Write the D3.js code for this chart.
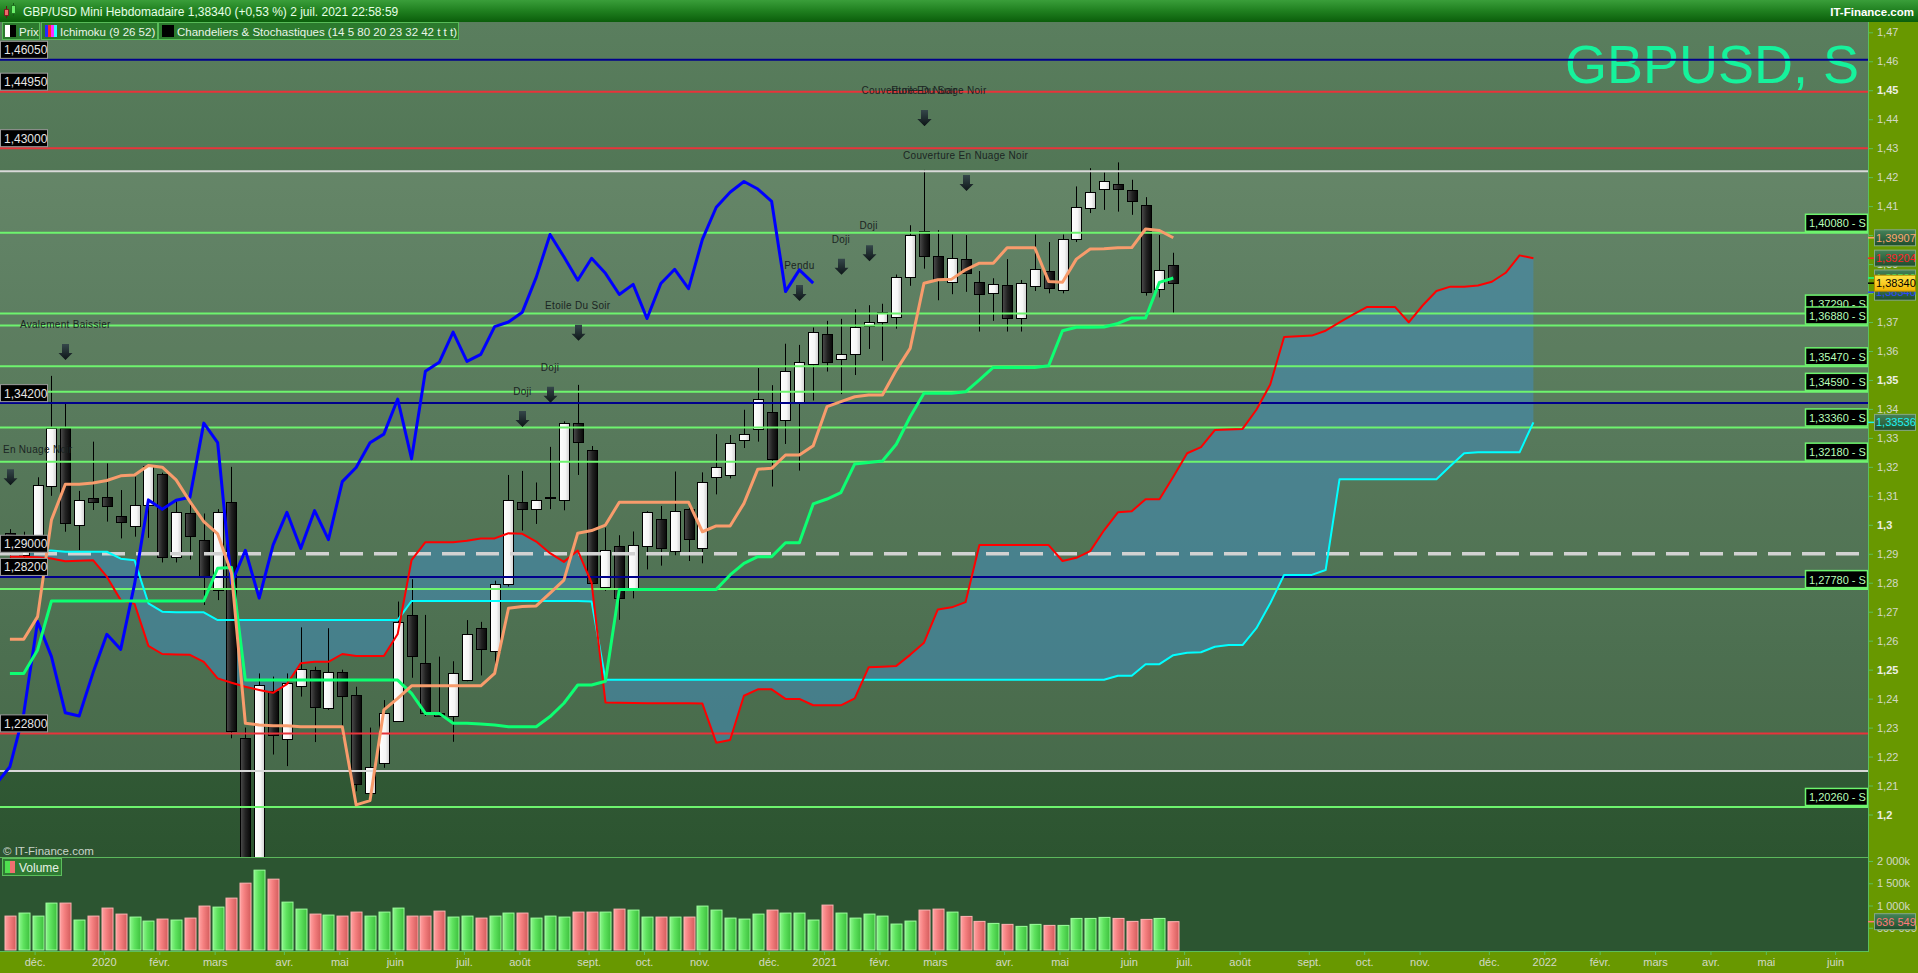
<!DOCTYPE html>
<html lang="fr">
<head>
<meta charset="utf-8">
<title>GBP/USD Mini Hebdomadaire</title>
<script src="https://cdn.jsdelivr.net/npm/d3@7/dist/d3.min.js"></script>
<style>
  body { margin: 0; background: #2c5531; overflow: hidden; }
  svg { display: block; font-family: "Liberation Sans", Arial, sans-serif; }
</style>
</head>
<body>
<div id="chart"></div>
<script>
// weekly candles, the first one is the week of 18 nov. 2019 (index 0)
const firstWeek = new Date(2019, 10, 18);

const opens = [1.2970,1.2897,1.2935,1.3133,1.3333,1.2999,1.3094,1.3097,1.3031,1.2999,
  1.3070,1.3174,1.2890,1.3039,1.2948,1.2775,1.3077,1.2263,1.1645,1.2426,
  1.2261,1.2444,1.2499,1.2370,1.2491,1.2413,1.2076,1.2176,1.2324,1.2688,
  1.2522,1.2351,1.2342,1.2464,1.2643,1.2565,1.2795,1.3078,1.3054,1.3090,
  1.3086,1.3351,1.3258,1.2786,1.2926,1.2781,1.2926,1.3019,1.2911,1.3054,
  1.2922,1.3164,1.3171,1.3294,1.3331,1.3389,1.3360,1.3418,1.3554,1.3659,
  1.3571,1.3592,1.3686,1.3701,1.3716,1.3858,1.4013,1.3927,1.3836,1.3917,
  1.3837,1.3798,1.3827,1.3712,1.3824,1.3875,1.3808,1.3987,1.4093,1.4156,
  1.4177,1.4155,1.4104,1.3813,1.3897];
const highs = [1.2985,1.2976,1.3164,1.3514,1.3417,1.3117,1.3287,1.3212,1.3120,1.3166,
  1.3205,1.3180,1.3086,1.3086,1.3039,1.3054,1.3200,1.2300,1.2487,1.2476,
  1.2487,1.2646,1.2510,1.2643,1.2500,1.2441,1.2300,1.2395,1.2735,1.2812,
  1.2689,1.2545,1.2529,1.2671,1.2665,1.2807,1.3172,1.3186,1.3146,1.3269,
  1.3357,1.3483,1.3272,1.2990,1.2964,1.2977,1.3047,1.3065,1.3184,1.3060,
  1.3181,1.3313,1.3310,1.3397,1.3541,1.3482,1.3625,1.3621,1.3681,1.3704,
  1.3711,1.3744,1.3758,1.3763,1.3864,1.4034,1.4225,1.4017,1.4002,1.4000,
  1.3876,1.3851,1.3917,1.3845,1.4002,1.3976,1.4002,1.4168,1.4231,1.4216,
  1.4251,1.4191,1.4131,1.4000,1.3939];
const lows = [1.2825,1.2822,1.2930,1.3100,1.2976,1.2913,1.3051,1.3011,1.2953,1.2959,
  1.2955,1.2870,1.2870,1.2880,1.2723,1.2740,1.2263,1.1409,1.1600,1.2207,
  1.2167,1.2407,1.2250,1.2361,1.2269,1.2080,1.2074,1.2161,1.2320,1.2472,
  1.2340,1.2338,1.2251,1.2460,1.2480,1.2517,1.2787,1.2980,1.3003,1.3054,
  1.3050,1.3172,1.2780,1.2772,1.2672,1.2746,1.2846,1.2859,1.2895,1.2875,
  1.2867,1.3105,1.3160,1.3265,1.3287,1.3132,1.3279,1.3187,1.3429,1.3529,
  1.3451,1.3517,1.3607,1.3566,1.3677,1.3825,1.3884,1.3775,1.3796,1.3804,
  1.3667,1.3704,1.3667,1.3667,1.3807,1.3799,1.3799,1.3976,1.4076,1.4087,
  1.4081,1.4070,1.3791,1.3785,1.3730];
const closes = [1.2897,1.2935,1.3136,1.3333,1.3005,1.3086,1.3080,1.3065,1.3011,1.3070,
  1.3203,1.2886,1.3045,1.2959,1.2821,1.3045,1.2286,1.1645,1.2447,1.2275,
  1.2453,1.2501,1.2370,1.2493,1.2407,1.2105,1.2165,1.2349,1.2666,1.2545,
  1.2351,1.2340,1.2489,1.2622,1.2570,1.2795,1.3086,1.3054,1.3085,1.3095,
  1.3351,1.3284,1.2798,1.2912,1.2747,1.2930,1.3043,1.2918,1.3049,1.2949,
  1.3149,1.3198,1.3283,1.3313,1.3434,1.3228,1.3530,1.3561,1.3665,1.3564,
  1.3588,1.3684,1.3700,1.3734,1.3854,1.4002,1.3925,1.3844,1.3920,1.3868,
  1.3795,1.3830,1.3712,1.3833,1.3882,1.3815,1.3985,1.4096,1.4148,1.4185,
  1.4159,1.4116,1.3805,1.3880,1.3834];
// volumes in thousands
const volumes = [762,830,762,1054,1054,673,762,942,807,740,
  650,695,673,717,987,964,1166,1502,1794,1592,
  1076,919,807,785,762,852,762,852,942,762,
  762,874,740,762,717,762,830,830,717,762,
  740,852,852,852,919,897,740,740,740,740,
  987,897,717,695,807,897,830,830,673,1009,
  830,717,807,762,583,650,897,919,852,755,
  643,598,576,531,576,553,553,710,710,733,
  710,643,688,710,636.549];

// Ichimoku (9 26 52)
const tenkan = [1.2605,1.2605,1.2683,1.3017,1.3140,1.3140,1.3144,1.3153,1.3169,1.3172,
  1.3205,1.3199,1.3155,1.3080,1.3011,1.2969,1.2833,1.2315,1.2309,1.2306,
  1.2306,1.2303,1.2303,1.2303,1.2303,1.2033,1.2048,1.2361,1.2401,1.2444,
  1.2444,1.2444,1.2444,1.2444,1.2444,1.2487,1.2712,1.2718,1.2720,1.2764,
  1.2809,1.2971,1.2980,1.2999,1.3078,1.3078,1.3078,1.3078,1.3078,1.3078,
  1.2976,1.2996,1.2996,1.3074,1.3192,1.3195,1.3241,1.3241,1.3273,1.3408,
  1.3425,1.3442,1.3448,1.3448,1.3534,1.3609,1.3834,1.3846,1.3848,1.3880,
  1.3903,1.3903,1.3956,1.3956,1.3956,1.3840,1.3837,1.3917,1.3952,1.3953,
  1.3956,1.3957,1.4021,1.4016,1.39907];
const kijun = [1.2487,1.2487,1.2568,1.2737,1.2737,1.2737,1.2737,1.2737,1.2737,1.2737,
  1.2737,1.2737,1.2737,1.2737,1.2737,1.2850,1.2853,1.2464,1.2464,1.2464,
  1.2464,1.2464,1.2464,1.2464,1.2464,1.2464,1.2464,1.2464,1.2464,1.2418,
  1.2349,1.2349,1.2315,1.2315,1.2312,1.2309,1.2303,1.2303,1.2303,1.2338,
  1.2384,1.2447,1.2447,1.2460,1.2777,1.2777,1.2777,1.2777,1.2777,1.2777,
  1.2777,1.2777,1.2827,1.2867,1.2890,1.2890,1.2938,1.2938,1.3072,1.3089,
  1.3111,1.3210,1.3215,1.3220,1.3278,1.3373,1.3454,1.3454,1.3454,1.3459,
  1.3500,1.3543,1.3543,1.3543,1.3543,1.3549,1.3670,1.3682,1.3682,1.3683,
  1.3695,1.3714,1.3714,1.3837,1.3852];
// senkou spans run 26 weeks past the last candle
const senkouA = [1.2890,1.2890,1.2888,1.2884,1.2874,1.2876,1.2878,1.2821,1.2740,1.2727,
  1.2582,1.2554,1.2552,1.2551,1.2527,1.2470,1.2455,1.2441,1.2430,1.2420,
  1.2450,1.2522,1.2527,1.2527,1.2554,1.2547,1.2547,1.2547,1.2623,1.2878,
  1.2940,1.2940,1.2940,1.2945,1.2953,1.2953,1.2971,1.2969,1.2942,1.2902,
  1.2872,1.2911,1.2800,1.2387,1.2386,1.2385,1.2384,1.2384,1.2384,1.2384,
  1.2383,1.2248,1.2257,1.2410,1.2432,1.2432,1.2399,1.2399,1.2377,1.2377,
  1.2377,1.2401,1.2508,1.2510,1.2513,1.2551,1.2593,1.2708,1.2715,1.2733,
  1.2930,1.2930,1.2930,1.2930,1.2930,1.2930,1.2875,1.2886,1.2909,1.2981,
  1.3043,1.3047,1.3088,1.3088,1.3166,1.3247,1.3268,1.3327,1.3329,1.3331,
  1.3397,1.3484,1.3648,1.3651,1.3653,1.3670,1.3699,1.3726,1.3752,1.3752,
  1.3752,1.3699,1.3757,1.3807,1.3822,1.3822,1.3826,1.3839,1.3870,1.3930,
  1.39204];
const senkouB = [1.2911,1.2911,1.2911,1.2911,1.2907,1.2907,1.2907,1.2907,1.2883,1.2878,
  1.2729,1.2700,1.2698,1.2698,1.2698,1.2671,1.2671,1.2671,1.2671,1.2671,
  1.2671,1.2671,1.2671,1.2671,1.2671,1.2671,1.2671,1.2671,1.2671,1.2737,
  1.2737,1.2737,1.2737,1.2737,1.2737,1.2737,1.2737,1.2737,1.2737,1.2737,
  1.2737,1.2737,1.2735,1.2465,1.2465,1.2465,1.2465,1.2465,1.2465,1.2465,
  1.2465,1.2465,1.2465,1.2465,1.2465,1.2465,1.2465,1.2465,1.2465,1.2465,
  1.2465,1.2465,1.2465,1.2465,1.2465,1.2465,1.2465,1.2465,1.2465,1.2465,
  1.2465,1.2465,1.2465,1.2465,1.2465,1.2465,1.2465,1.2465,1.2465,1.2465,
  1.2479,1.2479,1.2519,1.2519,1.2550,1.2558,1.2560,1.2579,1.2585,1.2585,
  1.2643,1.2729,1.2827,1.2827,1.2827,1.2844,1.3157,1.3157,1.3157,1.3157,
  1.3157,1.3157,1.3157,1.3157,1.3203,1.3247,1.3250,1.3250,1.3250,1.3250,
  1.33536];
const chikouShift = 26;

// horizontal levels drawn on the chart
const navyLevels = [1.4605, 1.342, 1.282];
const redLevels = [1.4495, 1.43, 1.228];
const whiteLevels = [1.422, 1.215];
const dashedLevels = [1.29];
const supportLevels = [1.4008, 1.3729, 1.3688, 1.3547, 1.3459, 1.3336, 1.3218, 1.2778, 1.2026];

// candlestick patterns found by the indicator
const patternIdx = [0, 4, 37, 39, 41, 57, 60, 62, 66, 66, 69];
const patternNames = ["Couverture En Nuage Noir", "Avalement Baissier", "Doji", "Doji", "Etoile Du Soir",
  "Pendu", "Doji", "Doji", "Couverture En Nuage Noir", "Etoile Du Soir", "Couverture En Nuage Noir"];

// axes
const priceTicks = [1.20,1.21,1.22,1.23,1.24,1.25,1.26,1.27,1.28,1.29,1.30,1.31,1.32,1.33,
  1.34,1.35,1.36,1.37,1.38,1.39,1.40,1.41,1.42,1.43,1.44,1.45,1.46,1.47];
const volumeTicks = [500000, 1000000, 1500000, 2000000];
// month labels sit on the first weekly bar of each month (bar index)
const monthTickBars = [2, 7, 11, 15, 20, 24, 28, 33, 37, 42, 46, 50, 55, 59, 63, 67, 72, 76, 81,
  85, 89, 94, 98, 102, 107, 111, 115, 119, 123, 127, 132];
const monthTickLabels = ["déc.", "2020", "févr.", "mars", "avr.", "mai", "juin", "juil.", "août", "sept.",
  "oct.", "nov.", "déc.", "2021", "févr.", "mars", "avr.", "mai", "juin", "juil.", "août", "sept.",
  "oct.", "nov.", "déc.", "2022", "févr.", "mars", "avr.", "mai", "juin"];

const titleText = "GBP/USD Mini Hebdomadaire 1,38340 (+0,53 %) 2 juil. 2021 22:58:59";
const legendItems = ["Prix", "Ichimoku (9 26 52)", "Chandeliers & Stochastiques (14 5 80 20 23 32 42 t t t)"];

const fr = d3.formatLocale({ decimal: ",", thousands: " ", grouping: [3], currency: ["", " €"] });

class IchimokuChart {
  constructor(_config) {
    this.config = {
      parentElement: _config.parentElement,
      width: 1918,
      height: 973,
      plotRight: 1868,
      plotTop: 22,
      priceBottom: 857,
      volBottom: 951
    };
    this.initVis();
  }

  initVis() {
    const vis = this;
    const c = vis.config;

    vis.svg = d3.select(c.parentElement).append("svg")
      .attr("width", c.width)
      .attr("height", c.height);

    vis.x = d3.scaleTime()
      .domain([firstWeek, d3.timeMonday.offset(firstWeek, closes.length - 1)])
      .range([9.9, 1173.3]);
    vis.xi = i => vis.x(d3.timeMonday.offset(firstWeek, i));
    vis.y = d3.scaleLinear().domain([1.47, 1.20]).range([32.3, 814.5]);
    vis.yVol = d3.scaleLinear().domain([0, 2000000]).range([950, 861]);

    vis.makeDefs();
    vis.renderBackground();

    vis.price = vis.svg.append("g").attr("clip-path", "url(#priceClip)");
    vis.renderWatermark();
    vis.renderCloud();
    vis.renderCandles();
    vis.renderLevels();
    vis.renderIchimoku();
    vis.renderPatterns();
    vis.renderLevelLabels();

    vis.renderVolume();
    vis.renderAxes();
    vis.renderMarkers();
    vis.renderHeader();
  }

  makeDefs() {
    const vis = this;
    const c = vis.config;
    const defs = vis.svg.append("defs");
    const grad = (id, stops, vertical) => {
      const g = defs.append("linearGradient").attr("id", id)
        .attr("x1", 0).attr("y1", 0)
        .attr("x2", vertical ? 0 : 1).attr("y2", vertical ? 1 : 0);
      stops.forEach(s => g.append("stop").attr("offset", s[0]).attr("stop-color", s[1]));
    };
    grad("gWhite", [[0, "#ffffff"], [0.6, "#f6f6f6"], [1, "#cfcfcf"]]);
    grad("gBlack", [[0, "#4c4c4c"], [0.5, "#222"], [1, "#080808"]]);
    grad("gVolUp", [[0, "#8df58d"], [0.4, "#5fe35f"], [1, "#3dbf3d"]]);
    grad("gVolDown", [[0, "#ffa2a2"], [0.4, "#f58080"], [1, "#d35c5c"]]);
    grad("gHeader", [[0, "#3a9e3a"], [0.5, "#1f7f1f"], [1, "#0b5e0b"]], true);
    grad("gMarker", [[0, "#45835a"], [1, "#1f4c2c"]], true);
    grad("gYellow", [[0, "#ffe64a"], [1, "#f2b200"]], true);
    grad("gArrow", [[0, "#35474a"], [1, "#0d1517"]], true);

    const bg = defs.append("linearGradient").attr("id", "gPriceBg")
      .attr("gradientUnits", "userSpaceOnUse")
      .attr("x1", 0).attr("y1", c.plotTop).attr("x2", 0).attr("y2", c.priceBottom);
    bg.append("stop").attr("offset", 0).attr("stop-color", "#5a7e5e");
    bg.append("stop").attr("offset", 1).attr("stop-color", "#2c5430");

    defs.append("clipPath").attr("id", "priceClip")
      .append("rect").attr("x", 0).attr("y", c.plotTop)
      .attr("width", c.plotRight).attr("height", c.priceBottom - c.plotTop);
  }

  renderBackground() {
    const vis = this;
    const c = vis.config;
    vis.svg.append("rect").attr("x", 0).attr("y", c.plotTop)
      .attr("width", c.plotRight).attr("height", c.priceBottom - c.plotTop)
      .attr("fill", "url(#gPriceBg)");
    // lighter band between the two white levels
    vis.svg.append("rect").attr("x", 0).attr("y", vis.y(d3.max(whiteLevels)))
      .attr("width", c.plotRight)
      .attr("height", vis.y(d3.min(whiteLevels)) - vis.y(d3.max(whiteLevels)))
      .attr("fill", "#ffffff").attr("fill-opacity", 0.11);
    vis.svg.append("rect").attr("x", 0).attr("y", c.priceBottom)
      .attr("width", c.plotRight).attr("height", c.volBottom - c.priceBottom)
      .attr("fill", "#2c5531");
    vis.svg.append("line").attr("x1", 0).attr("x2", c.plotRight)
      .attr("y1", c.priceBottom + 0.5).attr("y2", c.priceBottom + 0.5)
      .attr("stroke", "#5cb85c").attr("stroke-width", 1);
  }

  renderWatermark() {
    this.price.append("text")
      .attr("x", 1859).attr("y", 83)
      .attr("text-anchor", "end")
      .attr("font-size", 54)
      .attr("fill", "#16f29c")
      .text("GBPUSD, S");
  }

  renderCloud() {
    const vis = this;
    const area = d3.area()
      .x((d, i) => vis.xi(i))
      .y0((d, i) => vis.y(senkouA[i]))
      .y1((d, i) => vis.y(senkouB[i]));
    vis.price.append("path").datum(senkouA)
      .attr("d", area)
      .attr("fill", "#438bb3")
      .attr("fill-opacity", 0.6);
  }

  renderCandles() {
    const vis = this;
    const data = closes.map((cl, i) => ({ i, o: opens[i], h: highs[i], l: lows[i], c: cl }));
    const g = vis.price.append("g");
    const cx = d => Math.round(vis.xi(d.i));

    g.selectAll("line.wick").data(data).join("line")
      .attr("class", "wick")
      .attr("x1", d => cx(d) + 0.5).attr("x2", d => cx(d) + 0.5)
      .attr("y1", d => vis.y(d.h)).attr("y2", d => vis.y(d.l))
      .attr("stroke", "#000").attr("stroke-width", 1);

    g.selectAll("rect.body").data(data).join("rect")
      .attr("class", "body")
      .attr("x", d => cx(d) - 4.5)
      .attr("y", d => Math.round(vis.y(Math.max(d.o, d.c))) + 0.5)
      .attr("width", 10)
      .attr("height", d => Math.max(1, Math.round(Math.abs(vis.y(d.o) - vis.y(d.c)))))
      .attr("fill", d => d.c >= d.o ? "url(#gWhite)" : "url(#gBlack)")
      .attr("stroke", "#000").attr("stroke-width", 1);
  }

  renderLevels() {
    const vis = this;
    const g = vis.price.append("g");
    const draw = (levels, color, width, dash) => {
      g.selectAll(null).data(levels).join("line")
        .attr("x1", 0).attr("x2", vis.config.plotRight)
        .attr("y1", d => vis.y(d)).attr("y2", d => vis.y(d))
        .attr("stroke", color).attr("stroke-width", width)
        .attr("stroke-dasharray", dash || null);
    };
    draw(whiteLevels, "#d9d9d9", 2);
    draw(supportLevels, "#6ef46e", 2);
    draw(redLevels, "#e8333a", 2);
    draw(navyLevels, "#00008c", 2);
    draw(dashedLevels, "#d2d2d2", 3.5, "23,11");
  }

  renderIchimoku() {
    const vis = this;
    const line = d3.line().x((d, i) => vis.xi(i)).y(d => vis.y(d));
    const g = vis.price.append("g").attr("fill", "none").attr("stroke-linejoin", "round");

    g.append("path").datum(senkouB).attr("d", line).attr("stroke", "#00ffff").attr("stroke-width", 2);
    g.append("path").datum(senkouA).attr("d", line).attr("stroke", "#ff0000").attr("stroke-width", 2);

    // chikou = closes drawn 26 weeks back
    const chikou = d3.line()
      .x(k => vis.xi(k - chikouShift))
      .y(k => vis.y(closes[k]));
    g.append("path").datum(d3.range(chikouShift - 1, closes.length))
      .attr("d", chikou).attr("stroke", "#0000ff").attr("stroke-width", 3);

    g.append("path").datum(kijun).attr("d", line).attr("stroke", "#0dff72").attr("stroke-width", 3);
    g.append("path").datum(tenkan).attr("d", line).attr("stroke", "#f89c6c").attr("stroke-width", 3);
  }

  renderPatterns() {
    const vis = this;
    const data = patternIdx.map((idx, k) => ({ idx, name: patternNames[k] }));
    const g = vis.price.append("g");
    const arrow = (x, y) => `M${x - 3.5},${y - 8}H${x + 3.5}V${y + 1}H${x + 7}L${x},${y + 8}L${x - 7},${y + 1}H${x - 3.5}Z`;

    g.selectAll("path.arrow").data(data).join("path")
      .attr("class", "arrow")
      .attr("d", d => arrow(Math.round(vis.xi(d.idx)) + 0.5, vis.y(highs[d.idx]) - 52))
      .attr("fill", "url(#gArrow)");

    g.selectAll("text.pattern").data(data).join("text")
      .attr("class", "pattern")
      .attr("x", d => vis.xi(d.idx))
      .attr("y", d => vis.y(highs[d.idx]) - 76)
      .attr("text-anchor", "middle")
      .attr("font-size", 10)
      .attr("letter-spacing", 0.3)
      .attr("fill", "#1b2523")
      .text(d => d.name);
  }

  renderLevelLabels() {
    const vis = this;
    const g = vis.price.append("g");
    const fmt = fr.format(".5f");
    const leftLevels = [...navyLevels, ...redLevels, ...dashedLevels].sort((a, b) => b - a);

    const left = g.selectAll("g.left").data(leftLevels).join("g").attr("class", "left");
    left.append("rect")
      .attr("x", 0.5).attr("y", d => vis.y(d) - 18.5)
      .attr("width", 47).attr("height", 17)
      .attr("fill", "#000").attr("stroke", "#9a9a9a").attr("stroke-width", 1);
    left.append("text")
      .attr("x", 4).attr("y", d => vis.y(d) - 5.5)
      .attr("font-size", 12).attr("fill", "#e6e6e6")
      .text(d => fmt(d));

    const right = g.selectAll("g.right").data(supportLevels).join("g").attr("class", "right");
    right.append("rect")
      .attr("x", 1805.5).attr("y", d => vis.y(d) - 18.5)
      .attr("width", 62).attr("height", 17)
      .attr("fill", "#000").attr("stroke", "#6ef46e").attr("stroke-width", 1.5);
    right.append("text")
      .attr("x", 1809).attr("y", d => vis.y(d) - 5.5)
      .attr("font-size", 11).attr("fill", "#b9ffb9")
      .text(d => fmt(d) + " - S");
  }

  renderVolume() {
    const vis = this;
    const g = vis.svg.append("g");
    g.selectAll("rect.vol").data(volumes).join("rect")
      .attr("class", "vol")
      .attr("x", (d, i) => Math.round(vis.xi(i)) - 5)
      .attr("y", d => vis.yVol(d * 1000))
      .attr("width", 11)
      .attr("height", d => 950 - vis.yVol(d * 1000))
      .attr("fill", (d, i) => closes[i] >= opens[i] ? "url(#gVolUp)" : "url(#gVolDown)")
      .attr("stroke", (d, i) => closes[i] >= opens[i] ? "#9dff9d" : "#ffb3b3")
      .attr("stroke-width", 1);

    // legend box
    const lg = vis.svg.append("g");
    lg.append("rect").attr("x", 2.5).attr("y", 858.5).attr("width", 59).attr("height", 17)
      .attr("fill", "#2f7a33").attr("stroke", "#5cbf5c");
    lg.append("rect").attr("x", 5).attr("y", 861).attr("width", 5).attr("height", 12).attr("fill", "#4fe04f");
    lg.append("rect").attr("x", 10).attr("y", 861).attr("width", 5).attr("height", 12).attr("fill", "#f07070");
    lg.append("text").attr("x", 19).attr("y", 871.5).attr("font-size", 12).attr("fill", "#e6f2e6").text("Volume");

    vis.svg.append("text").attr("x", 3).attr("y", 855).attr("font-size", 11.5)
      .attr("fill", "#c9d3c9").text("© IT-Finance.com");
  }

  renderAxes() {
    const vis = this;
    const c = vis.config;

    // right and bottom olive panels
    vis.svg.append("rect").attr("x", c.plotRight).attr("y", c.plotTop)
      .attr("width", c.width - c.plotRight).attr("height", c.volBottom - c.plotTop).attr("fill", "#689800");
    vis.svg.append("rect").attr("x", 0).attr("y", c.volBottom)
      .attr("width", c.width).attr("height", c.height - c.volBottom).attr("fill", "#689800");
    vis.svg.append("line").attr("x1", c.plotRight + 0.5).attr("x2", c.plotRight + 0.5)
      .attr("y1", c.plotTop).attr("y2", c.volBottom).attr("stroke", "#5cbf5c");
    vis.svg.append("line").attr("x1", 0).attr("x2", c.plotRight + 1)
      .attr("y1", c.volBottom + 0.5).attr("y2", c.volBottom + 0.5).attr("stroke", "#5cbf5c");

    const styleAxis = (g) => {
      g.select(".domain").remove();
      g.selectAll(".tick line").attr("stroke", "#5cbf5c");
      g.selectAll(".tick text").attr("fill", "#d3d8c6").attr("font-size", 11)
        .attr("font-family", "Liberation Sans, Arial, sans-serif");
    };

    const yAxis = vis.svg.append("g")
      .attr("transform", `translate(${c.plotRight},0)`)
      .call(d3.axisRight(vis.y).tickValues(priceTicks).tickSize(5).tickPadding(4)
        .tickFormat(fr.format(".2~f")));
    styleAxis(yAxis);
    yAxis.selectAll(".tick text")
      .attr("font-weight", d => Math.round(d * 100) % 5 === 0 ? "bold" : null)
      .attr("fill", d => Math.round(d * 100) % 5 === 0 ? "#ecefe4" : "#d3d8c6");

    const volAxis = vis.svg.append("g")
      .attr("transform", `translate(${c.plotRight},0)`)
      .call(d3.axisRight(vis.yVol).tickValues(volumeTicks).tickSize(5).tickPadding(4)
        .tickFormat(v => v >= 1000000 ? fr.format(",")(v / 1000) + "k" : fr.format(",")(v)));
    styleAxis(volAxis);

    // ticks sit a hair left of the bar centre, like the original
    const tickDates = monthTickBars.map(i => d3.timeMonday.offset(firstWeek, i));
    const xAxis = vis.svg.append("g")
      .attr("transform", `translate(-3,${c.volBottom})`)
      .call(d3.axisBottom(vis.x).tickValues(tickDates).tickSize(4).tickPadding(3)
        .tickFormat((d, k) => monthTickLabels[k]));
    styleAxis(xAxis);
  }

  renderMarkers() {
    const vis = this;
    const c = vis.config;
    const fmt = fr.format(".5f");
    const last = closes.length - 1;
    const markers = [
      { v: tenkan[last], text: "#ffa46f", dy: 0 },
      { v: senkouA[senkouA.length - 1], text: "#ff2323", dy: 0 },
      { v: kijun[last], text: "#26ff80", dy: 0 },
      { v: closes[last], text: "#2b45ff", dy: 9 },
      { v: senkouB[senkouB.length - 1], text: "#1ff2f2", dy: 0 }
    ];
    const g = vis.svg.append("g");
    const box = (yc, fill, stroke, textColor, label, tick) => {
      g.append("line").attr("x1", c.plotRight).attr("x2", c.plotRight + 6)
        .attr("y1", yc).attr("y2", yc).attr("stroke", tick).attr("stroke-width", 1.5);
      g.append("rect").attr("x", c.plotRight + 6.5).attr("y", yc - 8)
        .attr("width", 41).attr("height", 16)
        .attr("fill", fill).attr("stroke", stroke).attr("stroke-width", 1);
      g.append("text").attr("x", c.plotRight + 8).attr("y", yc + 4)
        .attr("font-size", 11).attr("fill", textColor).text(label);
    };
    markers.forEach(m => box(vis.y(m.v) + m.dy, "url(#gMarker)", "#86a886", m.text, fmt(m.v), m.text));
    box(vis.y(closes[last]), "url(#gYellow)", "#b88a00", "#000", fmt(closes[last]), "#000");

    // last volume
    const vLast = volumes[last] * 1000;
    box(vis.yVol(vLast), "url(#gMarker)", "#86a886", "#ff7a7a",
      fr.format(",")(Math.round(vLast)), "#ff7a7a");
  }

  renderHeader() {
    const vis = this;
    const c = vis.config;
    const g = vis.svg.append("g");
    g.append("rect").attr("width", c.width).attr("height", c.plotTop).attr("fill", "url(#gHeader)");

    // little candles icon
    g.append("line").attr("x1", 6.5).attr("x2", 6.5).attr("y1", 6).attr("y2", 18).attr("stroke", "#5a1a1a");
    g.append("rect").attr("x", 4.5).attr("y", 9.5).attr("width", 4).attr("height", 6)
      .attr("fill", "#f06a6a").attr("stroke", "#7a2222");
    g.append("line").attr("x1", 13.5).attr("x2", 13.5).attr("y1", 3).attr("y2", 16).attr("stroke", "#1a5a1a");
    g.append("rect").attr("x", 11.5).attr("y", 5.5).attr("width", 4).attr("height", 8)
      .attr("fill", "#6aee6a").attr("stroke", "#227a22");

    g.append("text").attr("x", 23).attr("y", 15.5)
      .attr("font-size", 12).attr("fill", "#e6ffe6").text(titleText);
    g.append("text").attr("x", 1914).attr("y", 15.5).attr("text-anchor", "end")
      .attr("font-size", 11.5).attr("font-weight", "bold").attr("fill", "#ffffff")
      .text("IT-Finance.com");

    // legend row
    const boxes = [[2, 40], [41, 158], [158, 459]];
    const lg = vis.svg.append("g");
    boxes.forEach((b, k) => {
      lg.append("rect").attr("x", b[0] + 0.5).attr("y", 22.5)
        .attr("width", b[1] - b[0] - 1).attr("height", 17)
        .attr("fill", "#2b7a2d").attr("stroke", "#58bb58");
      lg.append("text").attr("x", b[0] + (k === 0 ? 17 : 19)).attr("y", 35.5)
        .attr("font-size", 11.5).attr("fill", "#e9f5e9").text(legendItems[k]);
    });
    // icons
    lg.append("rect").attr("x", 5).attr("y", 25).attr("width", 5).attr("height", 12).attr("fill", "#fff");
    lg.append("rect").attr("x", 10).attr("y", 25).attr("width", 6).attr("height", 12).attr("fill", "#000");
    ["#2a2aff", "#ff2a2a", "#ff2aff", "#2affff"].forEach((col, k) => {
      lg.append("rect").attr("x", 45 + k * 3).attr("y", 25).attr("width", 3).attr("height", 12).attr("fill", col);
    });
    lg.append("rect").attr("x", 162).attr("y", 25).attr("width", 12).attr("height", 12).attr("fill", "#000");
  }
}

const chart = new IchimokuChart({ parentElement: "#chart" });
</script>
</body>
</html>
